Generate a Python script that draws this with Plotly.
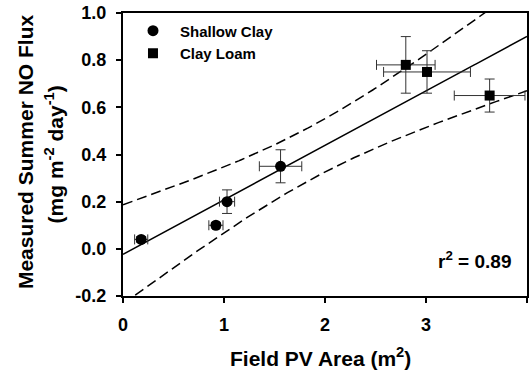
import numpy as np
import plotly.graph_objects as go

# Data
clay_x = [0.18, 0.92, 1.03, 1.56]
clay_y = [0.04, 0.10, 0.20, 0.35]
clay_xerr = [0.065, 0.07, 0.075, 0.21]
clay_yerr = [0.012, 0.012, 0.05, 0.07]

loam_x = [2.80, 3.01, 3.63]
loam_y = [0.78, 0.75, 0.65]
loam_xerr = [0.29, 0.43, 0.35]
loam_yerr = [0.12, 0.09, 0.07]

x_ticks = [0, 1, 2, 3, 4]
y_ticks = [-0.2, 0.0, 0.2, 0.4, 0.6, 0.8, 1.0]
y_ticklabels = ["-0.2", "0.0", "0.2", "0.4", "0.6", "0.8", "1.0"]

# Linear regression with 95% confidence band, computed from the points
xa = np.array(clay_x + loam_x)
ya = np.array(clay_y + loam_y)
n = len(xa)
slope, intercept = np.polyfit(xa, ya, 1)
resid = ya - (slope * xa + intercept)
s = np.sqrt(np.sum(resid ** 2) / (n - 2))
sxx = np.sum((xa - xa.mean()) ** 2)
t_crit = 2.5706  # t(0.975, df=5)
xf = np.linspace(0, 4, 200)
yf = slope * xf + intercept
half = t_crit * s * np.sqrt(1 / n + (xf - xa.mean()) ** 2 / sxx)

font = "Liberation Sans, Arial, sans-serif"
fig = go.Figure()
fig.add_trace(go.Scatter(x=xf, y=yf + half, mode="lines", showlegend=False,
                         line=dict(color="black", width=1.5, dash="10px,5px")))
fig.add_trace(go.Scatter(x=xf, y=yf - half, mode="lines", showlegend=False,
                         line=dict(color="black", width=1.5, dash="10px,5px")))
fig.add_trace(go.Scatter(x=xf, y=yf, mode="lines", showlegend=False,
                         line=dict(color="black", width=1.5)))

err_style = dict(type="data", color="#333333", thickness=1, width=5, visible=True)
fig.add_trace(go.Scatter(
    x=clay_x, y=clay_y, mode="markers", name="Shallow Clay",
    marker=dict(symbol="circle", size=11, color="black"),
    error_x=dict(array=clay_xerr, **err_style),
    error_y=dict(array=clay_yerr, **err_style)))
fig.add_trace(go.Scatter(
    x=loam_x, y=loam_y, mode="markers", name="Clay Loam",
    marker=dict(symbol="square", size=10, color="black"),
    error_x=dict(array=loam_xerr, **err_style),
    error_y=dict(array=loam_yerr, **err_style)))

bold = lambda sz: dict(family=font, size=sz, color="black", weight="bold")
fig.add_annotation(x=0.965, y=0.127, xref="paper", yref="paper", xanchor="right", yanchor="middle",
                   text="r<sup>2</sup> = 0.89", showarrow=False, font=bold(19))
fig.add_annotation(x=-0.2426, y=0.512, xref="paper", yref="paper", textangle=-90,
                   text="Measured Summer NO Flux", showarrow=False,
                   xanchor="center", yanchor="middle", font=bold(21))
fig.add_annotation(x=-0.171, y=0.5, xref="paper", yref="paper", textangle=-90,
                   text="(mg m<sup>-2</sup> day<sup>-1</sup>)", showarrow=False,
                   xanchor="center", yanchor="middle", font=bold(21))
fig.add_annotation(x=0.49, y=-0.216, xref="paper", yref="paper",
                   text="Field PV Area (m<sup>2</sup>)", showarrow=False,
                   xanchor="center", yanchor="middle", font=bold(21))

axis_common = dict(showline=True, linecolor="black", linewidth=2, mirror=True,
                   ticks="outside", ticklen=5, tickwidth=2, tickcolor="black",
                   showgrid=False, zeroline=False, automargin=False,
                   ticklabelstandoff=6, tickfont=bold(18))
fig.update_xaxes(range=[0, 4], tickvals=x_ticks, ticktext=[str(v) for v in x_ticks], **axis_common)
fig.update_yaxes(range=[-0.2, 1.0], tickvals=y_ticks, ticktext=y_ticklabels, **axis_common)

fig.update_layout(
    width=529, height=372, template="none",
    paper_bgcolor="white", plot_bgcolor="white",
    margin=dict(l=123, r=2, t=13, b=76),
    legend=dict(x=0.0074, y=0.995, xanchor="left", yanchor="top",
                bgcolor="rgba(0,0,0,0)", itemwidth=44, tracegroupgap=0,
                font=bold(15)),
)
fig.write_html("out.html")
